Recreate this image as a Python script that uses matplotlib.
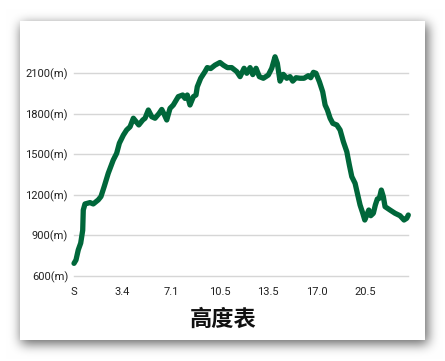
import numpy as np
import matplotlib
matplotlib.use('Agg')
import matplotlib.pyplot as plt

# elevation profile (distance in km, elevation in m)
dist_km = [0.00, 0.14, 0.30, 0.47, 0.61, 0.65, 0.77, 1.12, 1.35, 1.70, 1.89, 2.12,
           2.40, 2.75, 2.99, 3.18, 3.46, 3.69, 3.93, 4.16, 4.35, 4.54, 4.82, 4.98,
           5.21, 5.45, 5.68, 5.96, 6.15, 6.31, 6.50, 6.73, 6.96, 7.31, 7.62, 7.78,
           7.94, 8.13, 8.37, 8.55, 8.64, 8.88, 9.18, 9.34, 9.58, 9.88, 10.23, 10.47,
           10.75, 11.05, 11.41, 11.64, 11.92, 12.11, 12.34, 12.53, 12.76, 12.99,
           13.27, 13.62, 13.86, 14.09, 14.25, 14.44, 14.67, 14.91, 15.14, 15.33,
           15.56, 15.84, 16.12, 16.42, 16.59, 16.78, 16.96, 17.20, 17.43, 17.60,
           17.76, 17.95, 18.14, 18.42, 18.65, 18.88, 19.12, 19.30, 19.47, 19.70,
           19.86, 20.05, 20.24, 20.38, 20.52, 20.66, 20.80, 20.98, 21.12, 21.26,
           21.40, 21.54, 21.68, 21.80, 22.15, 22.50, 22.85, 23.13, 23.32, 23.43]
elev_m = [690, 715, 790, 840, 935, 1085, 1130, 1140, 1130, 1160, 1185, 1260,
          1357, 1455, 1505, 1580, 1640, 1678, 1702, 1765, 1740, 1715, 1752, 1765,
          1826, 1776, 1765, 1800, 1830, 1796, 1752, 1838, 1863, 1925, 1937, 1912,
          1937, 1863, 1925, 1937, 1998, 2061, 2110, 2140, 2133, 2158, 2178, 2158,
          2140, 2140, 2110, 2073, 2135, 2098, 2140, 2088, 2135, 2073,
          2061, 2085, 2135, 2220, 2172, 2040, 2090, 2061, 2073, 2040,
          2065, 2061, 2061, 2080, 2065, 2105, 2098, 2035, 1961, 1863,
          1826, 1765, 1727, 1715, 1678, 1591, 1517, 1418, 1332, 1283,
          1209, 1122, 1061, 1011, 1048, 1085, 1043, 1061, 1122, 1167,
          1172, 1233, 1184, 1110, 1085, 1061, 1043, 1011, 1024, 1048]

x_labels = ['S', '3.4', '7.1', '10.5', '13.5', '17.0', '20.5']
y_ticks = [600, 900, 1200, 1500, 1800, 2100]
title = '高度表'

W, H = 445, 361
fig = plt.figure(figsize=(W / 100, H / 100), dpi=100)
fig.patch.set_facecolor('white')

# card with soft drop shadow, drawn as a background image
card = (20, 21, 425, 340)  # left, top, right, bottom in pixels
mask = np.zeros((H, W))
mask[card[1] + 3:card[3] + 4, card[0] + 1:card[2] + 3] = 1.0
def box_blur(a, r):
    k = np.ones(2 * r + 1) / (2 * r + 1)
    a = np.apply_along_axis(lambda m: np.convolve(m, k, mode='same'), 0, a)
    a = np.apply_along_axis(lambda m: np.convolve(m, k, mode='same'), 1, a)
    return a
for _ in range(3):
    mask = box_blur(mask, 5)
shade = 1.0 - 0.6 * mask
bg = np.dstack([shade, shade, shade])
bg[card[1]:card[3], card[0]:card[2]] = 1.0
fig.figimage(bg, xo=0, yo=0, origin='upper', zorder=-5)

ax = fig.add_axes([74 / W, 1 - 275.5 / H, (408.3 - 74) / W, (275.5 - 46) / H])
ax.set_zorder(2)
ax.set_facecolor('none')
ax.plot(dist_km, elev_m, color='#00673a', lw=3.8, solid_capstyle='round',
        solid_joinstyle='round', clip_on=False, zorder=3)

ax.set_xlim(0, dist_km[-1])
ax.set_ylim(600, 2300)
ax.set_yticks(y_ticks)
ax.set_yticklabels([f'{v}(m)' for v in y_ticks])
ax.set_xticks(np.arange(len(x_labels)) * 3.4)
ax.set_xticklabels(x_labels)
ax.grid(axis='y', color='#d6d6d6', lw=1.0)
for gl in ax.get_ygridlines():
    gl.set_clip_on(False)
ax.set_axisbelow(True)
for s in ax.spines.values():
    s.set_visible(False)
ax.tick_params(axis='both', length=0, labelsize=8, labelcolor='#222222')
ax.tick_params(axis='y', pad=4.3)
ax.tick_params(axis='x', pad=8.5)
for lbl in ax.get_xticklabels() + ax.get_yticklabels():
    lbl.set_fontfamily('Roboto')

fig.text(223 / W, 1 - 319 / H, title, ha='center', va='center', fontsize=16,
         fontweight='bold', family=['Noto Sans CJK SC', 'DejaVu Sans'], color='#111111',
         zorder=3)

fig.savefig('out.png', dpi=100)
